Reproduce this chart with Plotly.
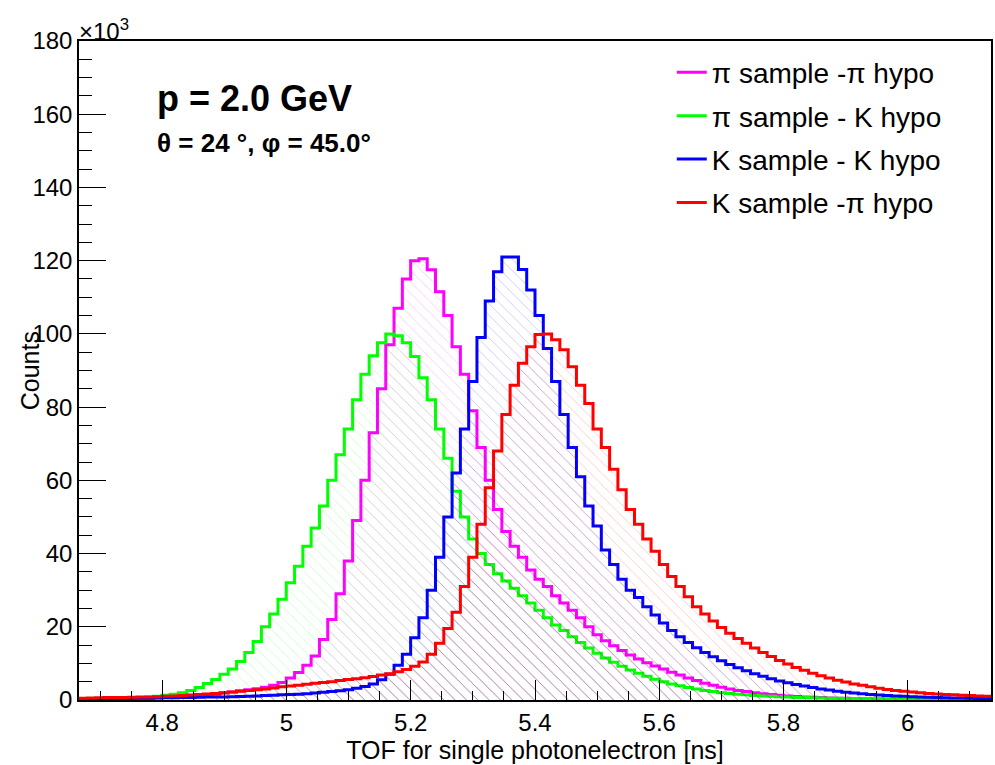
import numpy as np
import plotly.graph_objects as go

# ---- data (counts in thousands per bin) ----
BIN_LO, BIN_HI, NBINS = 4.666, 6.134, 110

pi_sample_pi_hypo = [
    0.2, 0.2, 0.3, 0.3, 0.3, 0.4, 0.4, 0.5, 0.5, 0.6,
    0.7, 0.8, 0.9, 1.0, 1.2, 1.4, 1.6, 1.9, 2.2, 2.5,
    2.8, 3.1, 3.5, 4.0, 4.8, 6.0, 7.5, 9.5, 12.0, 16.5,
    22.0, 29.0, 38.0, 49.0, 60.0, 73.0, 85.0, 97.0, 107.0, 115.0,
    120.0, 120.5, 117.5, 111.5, 105.0, 96.5, 89.0, 79.0, 69.0, 60.0,
    52.0, 46.0, 42.0, 39.0, 35.5, 33.0, 31.0, 28.5, 26.5, 24.5,
    22.5, 20.0, 17.8, 16.2, 14.8, 13.5, 12.3, 11.2, 10.2, 9.3,
    8.5, 7.6, 6.8, 6.0, 5.3, 4.6, 4.0, 3.5, 3.0, 2.6,
    2.3, 2.0, 1.7, 1.5, 1.3, 1.1, 0.95, 0.85, 0.75, 0.65,
    0.55, 0.5, 0.45, 0.4, 0.35, 0.3, 0.3, 0.25, 0.25, 0.2,
    0.2, 0.2, 0.15, 0.15, 0.15, 0.1, 0.1, 0.1, 0.1, 0.1,
]
pi_sample_K_hypo = [
    0.3, 0.3, 0.35, 0.4, 0.45, 0.5, 0.6, 0.7, 0.8, 1.0,
    1.3, 1.6, 2.0, 2.6, 3.4, 4.5, 5.6, 7.0, 8.5, 10.5,
    13.0, 16.0, 20.0, 23.5, 27.5, 32.0, 36.5, 42.0, 47.0, 53.0,
    60.0, 67.0, 74.0, 82.0, 89.0, 94.0, 97.6, 100.0, 99.5, 97.6,
    93.8, 88.0, 82.0, 74.0, 66.0, 57.0, 50.0, 44.0, 40.0, 37.0,
    34.5, 32.5, 30.5, 28.5, 26.5, 24.5, 22.5, 20.5, 19.0, 17.3,
    15.7, 14.2, 12.8, 11.5, 10.3, 9.2, 8.2, 7.3, 6.5, 5.7,
    5.0, 4.4, 3.9, 3.4, 3.0, 2.6, 2.3, 2.0, 1.8, 1.6,
    1.4, 1.25, 1.1, 1.0, 0.9, 0.8, 0.7, 0.65, 0.6, 0.55,
    0.5, 0.45, 0.42, 0.4, 0.37, 0.35, 0.32, 0.3, 0.28, 0.26,
    0.25, 0.23, 0.22, 0.2, 0.2, 0.18, 0.17, 0.16, 0.15, 0.15,
]
K_sample_K_hypo = [
    0.3, 0.3, 0.35, 0.35, 0.4, 0.4, 0.45, 0.5, 0.5, 0.55,
    0.6, 0.6, 0.65, 0.7, 0.75, 0.8, 0.8, 0.85, 0.9, 0.95,
    1.0, 1.1, 1.2, 1.3, 1.4, 1.5, 1.6, 1.7, 1.9, 2.1,
    2.3, 2.5, 2.8, 3.2, 3.7, 4.4, 5.5, 7.0, 9.5, 12.5,
    17.0, 22.5, 30.0, 39.0, 50.0, 62.0, 74.0, 87.0, 99.0, 109.0,
    117.0, 121.0, 121.0, 117.6, 112.0, 105.0, 96.0, 87.0, 78.0, 69.0,
    61.0, 53.0, 47.5, 41.0, 37.0, 33.0, 30.0, 28.0, 25.5, 23.2,
    21.0, 19.0, 17.3, 15.7, 14.3, 13.0, 11.8, 10.7, 9.7, 8.8,
    8.0, 7.2, 6.5, 5.8, 5.2, 4.7, 4.2, 3.8, 3.4, 3.0,
    2.7, 2.4, 2.1, 1.9, 1.7, 1.5, 1.35, 1.2, 1.1, 1.0,
    0.9, 0.82, 0.75, 0.68, 0.62, 0.56, 0.52, 0.48, 0.44, 0.4,
]
K_sample_pi_hypo = [
    0.5, 0.55, 0.6, 0.65, 0.7, 0.7, 0.75, 0.8, 0.85, 0.9,
    1.0, 1.1, 1.2, 1.35, 1.5, 1.65, 1.8, 2.0, 2.2, 2.4,
    2.6, 2.8, 3.0, 3.3, 3.6, 3.8, 4.0, 4.3, 4.6, 4.8,
    5.0, 5.3, 5.6, 5.8, 6.1, 6.4, 6.8, 7.2, 7.7, 8.3,
    9.2, 10.4, 12.5, 15.5, 19.5, 24.0, 31.0, 39.0, 48.0, 58.0,
    68.0, 78.0, 86.0, 92.0, 96.5, 99.8, 100.0, 98.4, 95.7, 91.0,
    86.0, 81.0, 74.0, 69.0, 63.0, 57.4, 52.0, 48.0, 44.0, 40.6,
    37.0, 33.7, 31.0, 28.2, 25.5, 23.5, 21.6, 19.8, 18.2, 16.8,
    15.5, 14.2, 13.0, 11.9, 10.8, 9.8, 8.9, 8.1, 7.3, 6.6,
    6.0, 5.4, 4.9, 4.4, 4.0, 3.6, 3.2, 2.9, 2.6, 2.4,
    2.2, 2.0, 1.8, 1.65, 1.5, 1.4, 1.3, 1.2, 1.1, 1.0,
]

series_names = ["π sample -π hypo", "π sample - K hypo", "K sample - K hypo", "K sample -π hypo"]
series_values = [pi_sample_pi_hypo, pi_sample_K_hypo, K_sample_K_hypo, K_sample_pi_hypo]
series_colors = ["#ff00ff", "#00ff00", "#0000ff", "#ff0000"]

x_tick_vals = [4.8, 5.0, 5.2, 5.4, 5.6, 5.8, 6.0]
x_tick_text = ["4.8", "5", "5.2", "5.4", "5.6", "5.8", "6"]
y_tick_vals = [0, 20, 40, 60, 80, 100, 120, 140, 160, 180]

edges = np.linspace(BIN_LO, BIN_HI, NBINS + 1)

FONT = "Liberation Sans, Arial, Helvetica, sans-serif"
fig = go.Figure()

for name, vals, col in zip(series_names, series_values, series_colors):
    y = list(vals) + [vals[-1]]
    fig.add_trace(go.Scatter(
        x=edges, y=y, mode="lines", line=dict(color=col, width=3, shape="hv"),
        fill="tozeroy", fillcolor="rgba(0,0,0,0)",
        fillpattern=dict(shape="\\", fgcolor=col, fgopacity=0.3, size=8, solidity=0.08),
        showlegend=False, hoverinfo="skip",
    ))

for i, (name, col) in enumerate(zip(series_names, series_colors)):
    fig.add_trace(go.Scatter(
        x=[None], y=[None], mode="lines", line=dict(color=col, width=3),
        name=name, legendgroup=f"g{i}", showlegend=True,
    ))

fig.update_layout(
    width=995, height=765,
    margin=dict(l=79, r=2, t=41, b=65),
    paper_bgcolor="white", plot_bgcolor="white",
    font=dict(family=FONT, size=24, color="black"),
    showlegend=True,
    legend=dict(x=0.65, y=0.99, xanchor="left", yanchor="top",
                font=dict(size=28, family=FONT), bgcolor="rgba(0,0,0,0)",
                tracegroupgap=4, itemwidth=30),
    xaxis=dict(range=[BIN_LO, BIN_HI], showgrid=False, zeroline=False,
               showline=True, linecolor="black", linewidth=1.5, mirror=True,
               ticks="inside", ticklen=20, tickwidth=1, tickcolor="black",
               tickvals=x_tick_vals, ticktext=x_tick_text,
               tickfont=dict(size=24),
               minor=dict(ticks="inside", ticklen=9, dtick=0.05, tick0=4.8, tickcolor="black", tickwidth=1),
               title=dict(text="TOF for single photonelectron [ns]", font=dict(size=25), standoff=6)),
    yaxis=dict(range=[0, 180], showgrid=False, zeroline=False,
               showline=True, linecolor="black", linewidth=1.5, mirror=True,
               ticks="inside", ticklen=27, tickwidth=1, tickcolor="black",
               tickvals=y_tick_vals, tickfont=dict(size=24),
               minor=dict(ticks="inside", ticklen=13, dtick=5, tick0=0, tickcolor="black", tickwidth=1)),
)

fig.add_annotation(text="Counts", textangle=-90, xref="paper", yref="paper",
                   x=-0.054, y=0.5, xanchor="center", yanchor="middle",
                   showarrow=False, font=dict(size=25))
fig.add_annotation(text="×10<sup>3</sup>", xref="paper", yref="paper",
                   x=-0.002, y=1.0, xanchor="left", yanchor="bottom", yshift=-6,
                   showarrow=False, font=dict(size=24))
fig.add_annotation(text="<b>p = 2.0 GeV</b>", xref="paper", yref="paper",
                   x=(155 - 79) / 914, y=(700 - 98) / 659, xanchor="left", yanchor="middle",
                   showarrow=False, font=dict(size=36))
fig.add_annotation(text="<b>θ = 24 °, φ = 45.0°</b>", xref="paper", yref="paper",
                   x=(155 - 79) / 914, y=(700 - 143) / 659, xanchor="left", yanchor="middle",
                   showarrow=False, font=dict(size=26))

fig.write_html("out.html")
